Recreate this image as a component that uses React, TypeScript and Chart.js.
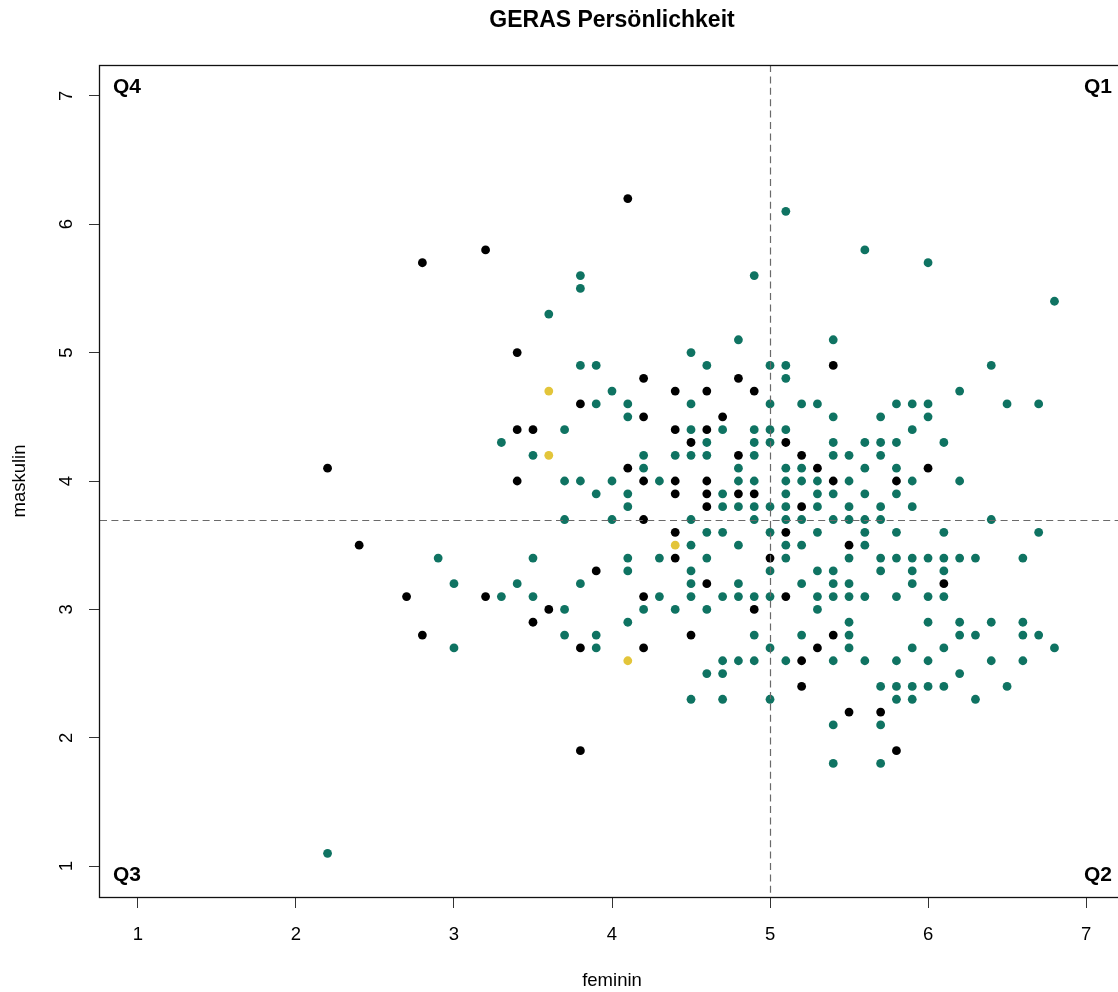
import React, { useEffect, useRef } from "react";
import { Chart, registerables } from "chart.js";

Chart.register(...registerables);

// ---------- data ----------
const chartTitle = "GERAS Persönlichkeit";
const xAxisTitle = "feminin";
const yAxisTitle = "maskulin";
const xTickValues = [1, 2, 3, 4, 5, 6, 7];
const yTickValues = [1, 2, 3, 4, 5, 6, 7];
const axisMin = 0.76;
const axisMax = 7.24;
const femininCut = 5;
const maskulinCut = 3.7;
const quadrantNames = ["Q1", "Q2", "Q3", "Q4"];

// teal group: maskulin level -> feminin values
const tealMaskulin = [6.1, 5.8, 5.7, 5.6, 5.5, 5.4, 5.3, 5.1, 5.0, 4.9, 4.8, 4.7, 4.6, 4.5, 4.4, 4.3, 4.2, 4.1, 4.0, 3.9, 3.8, 3.7, 3.6, 3.5, 3.4, 3.3, 3.2, 3.1, 3.0, 2.9, 2.8, 2.7, 2.6, 2.5, 2.4, 2.3, 2.1, 1.8, 1.1];
const tealFeminin = [
  [5.1],
  [5.6],
  [6.0],
  [3.8, 4.9],
  [3.8],
  [6.8],
  [3.6],
  [4.8, 5.4],
  [4.5],
  [3.8, 3.9, 4.6, 5.0, 5.1, 6.4],
  [5.1],
  [4.0, 6.2],
  [3.9, 4.1, 4.5, 5.0, 5.2, 5.3, 5.8, 5.9, 6.0, 6.5, 6.7],
  [4.1, 5.4, 5.7, 6.0],
  [3.7, 4.5, 4.7, 4.9, 5.0, 5.1, 5.9],
  [3.3, 4.6, 4.9, 5.0, 5.4, 5.6, 5.7, 5.8, 6.1],
  [3.5, 4.2, 4.4, 4.5, 4.6, 4.9, 5.4, 5.5, 5.7],
  [4.2, 4.8, 5.1, 5.2, 5.6, 5.8],
  [3.7, 3.8, 4.0, 4.3, 4.8, 4.9, 5.1, 5.2, 5.3, 5.5, 5.9, 6.2],
  [3.9, 4.1, 4.7, 5.1, 5.3, 5.4, 5.6, 5.8],
  [4.1, 4.7, 4.8, 4.9, 5.0, 5.1, 5.3, 5.5, 5.7, 5.9],
  [3.7, 4.0, 4.5, 4.9, 5.1, 5.2, 5.4, 5.5, 5.6, 5.7, 6.4],
  [4.6, 4.7, 5.0, 5.3, 5.6, 5.8, 6.1, 6.7],
  [4.5, 4.8, 5.1, 5.2, 5.6],
  [2.9, 3.5, 4.1, 4.3, 4.6, 5.1, 5.5, 5.7, 5.8, 5.9, 6.0, 6.1, 6.2, 6.3, 6.6],
  [4.1, 4.5, 5.0, 5.3, 5.4, 5.7, 5.9, 6.1],
  [3.0, 3.4, 3.8, 4.5, 4.8, 5.2, 5.4, 5.5, 5.9],
  [3.3, 3.5, 4.3, 4.5, 4.7, 4.8, 4.9, 5.0, 5.3, 5.4, 5.5, 5.6, 5.8, 6.0, 6.1],
  [3.7, 4.2, 4.4, 4.6, 5.3],
  [4.1, 5.5, 6.0, 6.2, 6.4, 6.6],
  [3.7, 3.9, 4.9, 5.2, 5.5, 6.2, 6.3, 6.6, 6.7],
  [3.0, 3.9, 5.0, 5.5, 5.9, 6.1, 6.8],
  [4.7, 4.8, 4.9, 5.1, 5.4, 5.6, 5.8, 6.0, 6.4, 6.6],
  [4.6, 4.7, 6.2],
  [5.7, 5.8, 5.9, 6.0, 6.1, 6.5],
  [4.5, 4.7, 5.0, 5.8, 5.9, 6.3],
  [5.4, 5.7],
  [5.4, 5.7],
  [2.2],
];

// black group
const blackMaskulin = [6.2, 5.8, 5.7, 5.0, 4.9, 4.8, 4.7, 4.6, 4.5, 4.4, 4.3, 4.2, 4.1, 4.0, 3.9, 3.8, 3.7, 3.6, 3.5, 3.4, 3.3, 3.2, 3.1, 3.0, 2.9, 2.8, 2.7, 2.6, 2.4, 2.2, 1.9];
const blackFeminin = [
  [4.1],
  [3.2],
  [2.8],
  [3.4],
  [5.4],
  [4.2, 4.8],
  [4.4, 4.6, 4.9],
  [3.8],
  [4.2, 4.7],
  [3.4, 3.5, 4.4, 4.6],
  [4.5, 5.1],
  [4.8, 5.2],
  [2.2, 4.1, 5.3, 6.0],
  [3.4, 4.2, 4.4, 4.6, 5.4, 5.8],
  [4.4, 4.6, 4.8, 4.9],
  [4.6, 5.2],
  [4.2],
  [4.4, 5.1],
  [2.4, 5.5],
  [4.4, 5.0],
  [3.9],
  [4.6, 6.1],
  [2.7, 3.2, 4.2, 5.1],
  [3.6, 4.9],
  [3.5],
  [2.8, 4.5, 5.4],
  [3.8, 4.2, 5.3],
  [5.2],
  [5.2],
  [5.5, 5.7],
  [3.8, 5.8],
];

// yellow group
const yellowMaskulin = [4.7, 4.2, 3.5, 2.6];
const yellowFeminin = [[3.6], [3.6], [4.4], [4.1]];

const groupColors = ["#0f7362", "#000000", "#e3c53a"];

// ---------- helpers ----------
const toPoints = (levels: number[], xs: number[][]) =>
  levels.flatMap((y, i) => xs[i].map((x) => ({ x, y })));

const FONT = "'Liberation Sans', Arial, Helvetica, sans-serif";

const decorPlugin = {
  id: "rDecor",
  afterDatasetsDraw(chart: any) {
    const { ctx, chartArea: a, scales } = chart;
    const xs = scales.x;
    const ys = scales.y;
    ctx.save();
    // dashed reference lines
    ctx.beginPath();
    ctx.rect(a.left, a.top, a.right - a.left, a.bottom - a.top);
    ctx.clip();
    ctx.strokeStyle = "#6a6a6a";
    ctx.lineWidth = 1.2;
    ctx.setLineDash([7, 4.4]);
    const vx = Math.round(xs.getPixelForValue(femininCut)) + 0.5;
    ctx.beginPath();
    ctx.moveTo(vx, a.top);
    ctx.lineTo(vx, a.bottom);
    ctx.stroke();
    const hy = Math.round(ys.getPixelForValue(maskulinCut)) + 0.5;
    ctx.beginPath();
    ctx.moveTo(a.left, hy);
    ctx.lineTo(a.right, hy);
    ctx.stroke();
    ctx.restore();

    ctx.save();
    // box
    ctx.setLineDash([]);
    ctx.strokeStyle = "#111";
    ctx.lineWidth = 1.3;
    ctx.strokeRect(a.left - 0.5, a.top + 0.5, a.right - a.left, a.bottom - a.top);

    ctx.fillStyle = "#000";
    // x tick labels
    ctx.font = `18.5px ${FONT}`;
    ctx.textAlign = "center";
    ctx.textBaseline = "alphabetic";
    xTickValues.forEach((v) => {
      ctx.fillText(String(v), xs.getPixelForValue(v), a.bottom + 43);
    });
    // y tick labels (rotated)
    yTickValues.forEach((v) => {
      ctx.save();
      ctx.translate(a.left - 28.5, ys.getPixelForValue(v));
      ctx.rotate(-Math.PI / 2);
      ctx.fillText(String(v), 0, 0);
      ctx.restore();
    });
    // axis titles
    const cx = (a.left + a.right) / 2;
    const cy = (a.top + a.bottom) / 2;
    ctx.fillText(xAxisTitle, cx, a.bottom + 89);
    ctx.save();
    ctx.translate(a.left - 75, cy);
    ctx.rotate(-Math.PI / 2);
    ctx.fillText(yAxisTitle, 0, 0);
    ctx.restore();

    // title
    ctx.font = `bold 23px ${FONT}`;
    ctx.fillText(chartTitle, cx, 27);

    // quadrant labels
    ctx.font = `bold 21px ${FONT}`;
    ctx.textAlign = "right";
    ctx.fillText(quadrantNames[0], a.right - 12, a.top + 28);
    ctx.fillText(quadrantNames[1], a.right - 12, a.bottom - 16);
    ctx.textAlign = "left";
    ctx.fillText(quadrantNames[2], a.left + 13, a.bottom - 16);
    ctx.fillText(quadrantNames[3], a.left + 13, a.top + 28);
    ctx.restore();
  },
};

export default function App() {
  const canvasRef = useRef<HTMLCanvasElement | null>(null);

  useEffect(() => {
    document.body.style.margin = "0";
    const canvas = canvasRef.current;
    if (!canvas) return;
    const pointStyle = (color: string) => ({
      backgroundColor: color,
      borderColor: color,
      borderWidth: 0,
      pointRadius: 4.4,
      pointHoverRadius: 4.4,
      pointBorderWidth: 0,
      showLine: false,
    });
    const chart = new Chart(canvas, {
      type: "scatter",
      data: {
        datasets: [
          { label: "teal", data: toPoints(tealMaskulin, tealFeminin), ...pointStyle(groupColors[0]) },
          { label: "black", data: toPoints(blackMaskulin, blackFeminin), ...pointStyle(groupColors[1]) },
          { label: "yellow", data: toPoints(yellowMaskulin, yellowFeminin), ...pointStyle(groupColors[2]) },
        ],
      },
      options: {
        responsive: false,
        animation: false,
        devicePixelRatio: 1,
        events: [],
        layout: { padding: { left: 0, right: 8, top: 65, bottom: 0 } },
        plugins: {
          legend: { display: false },
          tooltip: { enabled: false },
          title: { display: false },
        },
        scales: {
          x: {
            type: "linear",
            min: axisMin,
            max: axisMax,
            afterBuildTicks: (s: any) => {
              s.ticks = xTickValues.map((v) => ({ value: v }));
            },
            afterFit: (s: any) => {
              s.height = 95;
            },
            ticks: { display: false },
            grid: { display: true, drawOnChartArea: false, drawTicks: true, tickLength: 11, color: "#333", lineWidth: 1 },
            border: { display: false },
          },
          y: {
            type: "linear",
            min: axisMin,
            max: axisMax,
            afterBuildTicks: (s: any) => {
              s.ticks = yTickValues.map((v) => ({ value: v }));
            },
            afterFit: (s: any) => {
              s.width = 100;
            },
            ticks: { display: false },
            grid: { display: true, drawOnChartArea: false, drawTicks: true, tickLength: 11, color: "#333", lineWidth: 1 },
            border: { display: false },
          },
        },
      },
      plugins: [decorPlugin],
    } as any);
    return () => chart.destroy();
  }, []);

  return (
    <div style={{ width: 1118, height: 992, overflow: "hidden", position: "relative", background: "#fff" }}>
      <canvas ref={canvasRef} width={1132} height={992} style={{ display: "block", width: 1132, height: 992 }} />
    </div>
  );
}
